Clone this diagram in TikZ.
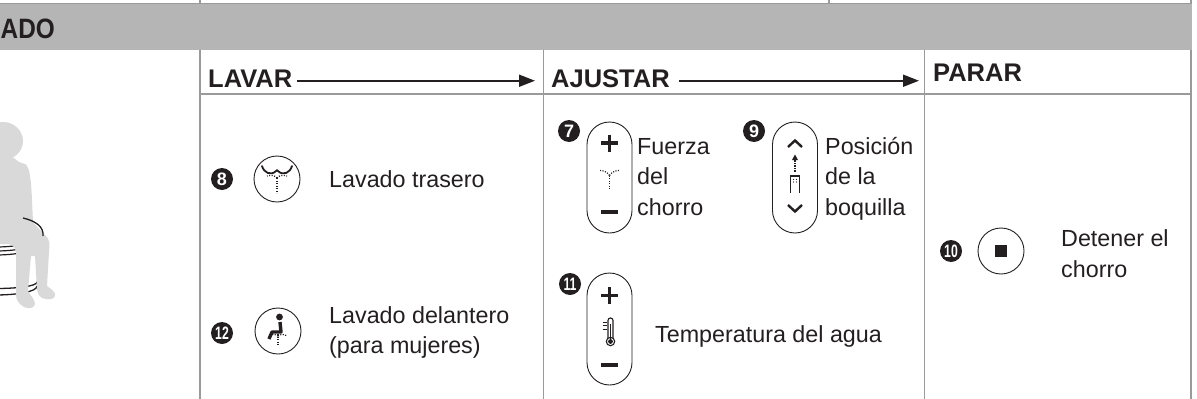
\documentclass[tikz,border=0pt]{standalone}
\usepackage{fontspec}
\setmainfont{Liberation Sans}
\usepackage{graphicx}
\usetikzlibrary{arrows.meta}

\definecolor{banner}{HTML}{B4B5B4}
\definecolor{rulegray}{HTML}{9A9A9A}
\definecolor{figgray}{HTML}{D9D9D9}
\definecolor{ink}{HTML}{231F20}

\tikzset{
  rulel/.style={draw=rulegray, line width=1.3pt},
  hdr/.style={font=\fontsize{25.5}{30}\selectfont\bfseries, text=ink, inner sep=0pt},
  txt/.style={font=\fontsize{23.3}{30.5}\selectfont, text=ink, inner sep=0pt, align=left},
  flow/.style={draw=ink, line width=1.8pt, -{Triangle[length=16pt,width=12pt]}},
  badge/.style={circle, fill=ink, text=white, inner sep=0pt, minimum size=22pt,
                font=\fontsize{18}{18}\selectfont\bfseries},
  btn/.style={circle, draw=ink, line width=0.9pt, minimum size=46pt, inner sep=0pt},
  pill/.style={draw=ink, line width=0.9pt, rounded corners=22.5pt, minimum width=45pt, inner sep=0pt},
  bar/.style={draw=ink, line width=3.2pt},
  chev/.style={draw=ink, line width=2.4pt},
  spray/.style={draw=ink, line width=1.2pt, dash pattern=on 1.1pt off 1.4pt},
}

\begin{document}
\begin{tikzpicture}[x=1pt, y=-1pt]
\useasboundingbox (0,0) rectangle (1197,399);

% --- table rules ---
\draw[rulel] (1191,0) -- (1191,399);
\draw[rulel] (0,3.5) -- (1191,3.5);
\draw[rulel] (200,0) -- (200,3.5);
\draw[rulel] (829,0) -- (829,3.5);
\fill[banner] (0,4.2) rectangle (1191.5,49.5);
\draw[rulel] (200,49.5) -- (200,399);
\draw[rulel] (543.5,49.5) -- (543.5,399);
\draw[rulel] (924.5,49.5) -- (924.5,399);
\draw[rulel] (200,94) -- (1191,94);

% --- banner title ---
\node[hdr, font=\fontsize{28}{30}\selectfont\bfseries, anchor=base west] (ado) at (0.5,38) {\scalebox{0.87}[1]{ADO}};

% --- seated figure on a stool ---
\begin{scope}
  \clip (0,50) rectangle (199,399);
  % stool cushion and base rings
  \draw[ink, line width=1.2pt] (-52,233) .. controls (-52,251.7) and (42,251.7) .. (42,233);
  \draw[ink, line width=1.2pt] (-52,237) .. controls (-52,255.7) and (42,255.7) .. (42,237);
  \draw[ink, line width=1.2pt] (-52,241) .. controls (-52,259.7) and (42,259.7) .. (42,241);
  \draw[ink, line width=1.3pt] (-47,282) .. controls (-47,290.7) and (37,290.7) .. (37,282);
  \draw[ink, line width=1.3pt] (-47,286) .. controls (-47,298) and (37,298) .. (37,286);
  % silhouette
  \fill[figgray] (3,141) ellipse [x radius=20, y radius=19];
  \fill[figgray] (-40,150) -- (12,157) .. controls (16,159) and (17,161) .. (19,162)
    -- (25,164) .. controls (30,167) and (31,180) .. (32,200) -- (33,222)
    .. controls (36,226) and (41,231) .. (45,235) .. controls (50,239) and (50,245) .. (49,252)
    -- (47,286) .. controls (51,289) and (56,292) .. (55,296)
    .. controls (54,300) and (47,300) .. (42,298) .. controls (39,296) and (37,293) .. (37,290)
    -- (35,256) -- (31,256) -- (28,291) .. controls (31,296) and (35,300) .. (35,304)
    .. controls (34,309) and (28,309) .. (24,307) .. controls (19,304) and (16,300) .. (16,295)
    -- (16,252) .. controls (15,247) and (12,244) .. (8,244) -- (-40,244) -- cycle;
  % back rim of the cushion
  \draw[ink, line width=1.3pt] (23,218) .. controls (36,221) and (44,227) .. (43,236);
\end{scope}

% --- header row ---
\node[hdr, anchor=base west] (lavar) at (208,87) {LAVAR};
\node[hdr, anchor=base west] (ajustar) at (551,87) {AJUSTAR};
\node[hdr, anchor=base west] (parar) at (933,81) {PARAR};
\draw[flow, shorten <=5pt, shorten >=16pt]
  ([yshift=-2.5pt]lavar.east) -- ([yshift=-2.5pt]lavar.east -| ajustar.west);
\draw[flow, shorten <=9pt, shorten >=14pt]
  ([yshift=-2.5pt]ajustar.east) -- ([yshift=-2.5pt]ajustar.east -| parar.west);

% --- LAVAR column ---
\node[badge] (n8) at (222,179) {8};
\node[btn] (b8) at (277,179) {};
\begin{scope}[shift={(b8.center)}]
  \draw[ink, line width=1.8pt, line cap=round]
    (-15,-13) .. controls (-13,-6) and (-6,-3) .. (-1,-8)
    .. controls (0,-9) and (0,-9) .. (1,-8)
    .. controls (6,-3) and (13,-6) .. (15,-13);
  \draw[spray] (0,-1) -- (0,14);
  \draw[spray] (0,-1) .. controls (-3,-4) and (-6,-4) .. (-10,-3);
  \draw[spray] (0,-1) .. controls (3,-4) and (6,-4) .. (10,-3);
\end{scope}
\node[txt, anchor=base west] (t8) at (329,187) {Lavado trasero};

\node[badge] (n12) at (222,333) {\scalebox{0.68}[1]{12}};
\node[btn] (b12) at (278,331) {};
\begin{scope}[shift={(b12.center)}]
  \fill[ink] (1.5,-14) circle (3.4);
  \draw[ink, line width=3.4pt, line join=round]
    (2,-9) -- (3,1) -- (-6,1) -- (-9,8);
  \draw[spray] (0,3) -- (0,15);
  \draw[spray] (0,5) .. controls (-3,3) and (-6,3) .. (-9,5);
  \draw[spray] (0,5) .. controls (3,3) and (6,3) .. (9,5);
\end{scope}
\node[txt, anchor=base west] (t12) at (329,353.5) {Lavado delantero\\(para mujeres)};

% --- AJUSTAR column ---
\node[badge] (n7) at (569,131) {7};
\node[pill, minimum height=111pt] (p7) at (609.5,177.5) {};
\begin{scope}[shift={(p7.center)}]
  \draw[bar] (-8.5,-34.5) -- (8.5,-34.5) (0,-43) -- (0,-26);
  \draw[bar] (-8.5,34.5) -- (8.5,34.5);
  \draw[spray] (0,-2) -- (0,11);
  \draw[spray] (0,-2) .. controls (-3,-6) and (-6,-7) .. (-10,-7);
  \draw[spray] (0,-2) .. controls (3,-6) and (6,-7) .. (10,-7);
\end{scope}
\node[txt, anchor=base west] (t7) at (637,215) {Fuerza\\del\\chorro};

\node[badge] (n9) at (754,131) {9};
\node[pill, minimum height=111pt] (p9) at (795,177.5) {};
\begin{scope}[shift={(p9.center)}]
  \draw[chev] (-7,-30.5) -- (0,-37) -- (7,-30.5);
  \draw[chev] (-7,27.5) -- (0,34) -- (7,27.5);
  \draw[spray] (0,-6) -- (0,-19);
  \fill[ink] (0,-23) -- (-3,-17.5) -- (3,-17.5) -- cycle;
  \draw[ink, line width=1.4pt] (-4.5,15) -- (-4.5,-1.5) -- (4.5,-1.5) -- (4.5,15);
  \foreach \dx in {-1.5,1.5} \foreach \dy in {2,4.5} \fill[ink] (\dx,\dy) circle (0.6);
\end{scope}
\node[txt, anchor=base west] (t9) at (825,215) {Posición\\de la\\boquilla};

\node[badge] (n11) at (570,284) {\scalebox{0.68}[1]{11}};
\node[pill, minimum height=112pt] (p11) at (609.5,329) {};
\begin{scope}[shift={(p11.center)}]
  \draw[bar] (-8.5,-33.5) -- (8.5,-33.5) (0,-42) -- (0,-25);
  \draw[bar] (-8.5,36) -- (8.5,36);
  % thermometer
  \draw[ink, line width=1.1pt, rounded corners=2.4pt] (-1.5,9) -- (-1.5,-11) -- (3.5,-11) -- (3.5,9);
  \draw[ink, line width=1.1pt] (1,12.5) circle (4.2);
  \fill[ink] (1,12.5) circle (2.4);
  \draw[ink, line width=1.4pt] (1,-5) -- (1,11);
  \draw[ink, line width=1pt] (-7,-7) -- (-3,-7) (-7,-3.5) -- (-3,-3.5) (-7,0) -- (-3,0);
\end{scope}
\node[txt, anchor=base west] (t11) at (655,342) {Temperatura del agua};

% --- PARAR column ---
\node[badge] (n10) at (951,251) {\scalebox{0.68}[1]{10}};
\node[btn] (b10) at (1001,251) {};
\node[fill=ink, minimum size=12.5pt, inner sep=0pt] (stop) at (b10.center) {};
\node[txt, anchor=base west] (t10) at (1061,277) {Detener el\\chorro};

\end{tikzpicture}
\end{document}
